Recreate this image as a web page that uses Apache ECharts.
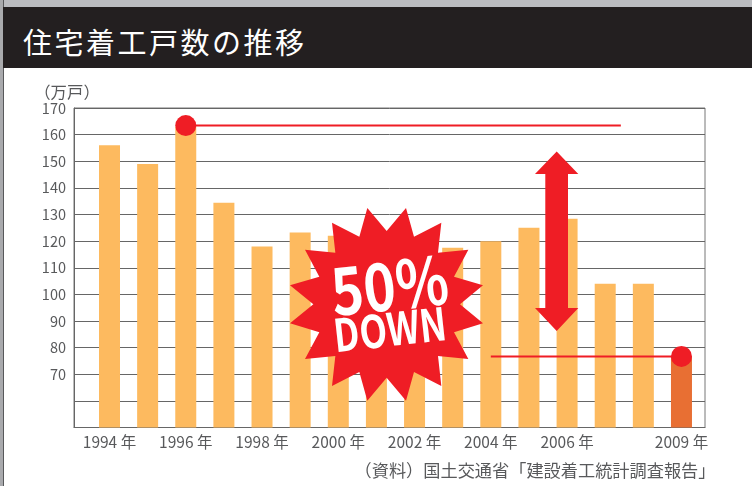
<!DOCTYPE html>
<html>
<head>
<meta charset="utf-8">
<script src="https://cdn.jsdelivr.net/npm/echarts@6/dist/echarts.min.js"></script>
<style>
  html, body { margin: 0; padding: 0; background: #fff; overflow: hidden; }
  #page { position: relative; width: 752px; height: 486px; }
  #topbar { position: absolute; left: 0; top: 0; width: 752px; height: 7px; background: #bbbcc0; }
  #leftbar { position: absolute; left: 0; top: 0; width: 3px; height: 486px; background: #a9aaad; border-right: 1px solid #58595b; box-sizing: content-box; }
  #header {
    position: absolute; left: 3px; top: 7px; width: 749px; height: 61px; margin: 0;
    background: #231f20; color: #fff; font: 400 29px/68px "Noto Sans CJK JP", sans-serif;
    letter-spacing: 2.5px; padding-left: 20px; box-sizing: border-box;
  }
  #chart { position: absolute; left: 0; top: 0; width: 752px; height: 486px; }
</style>
</head>
<body>
<div id="page">
  <div id="chart"></div>
  <div id="topbar"></div>
  <div id="leftbar"></div>
  <h1 id="header">住宅着工戸数の推移</h1>
</div>
<script>
const years = [1994, 1995, 1996, 1997, 1998, 1999, 2000, 2001, 2002, 2003, 2004, 2005, 2006, 2007, 2008, 2009]
const starts = [156, 149, 163, 134.4, 118, 123.2, 122, 117, 115, 117.5, 120, 125, 128.4, 104, 104, 76.7]
const yearLabels = [1994, 1996, 1998, 2000, 2002, 2004, 2006, 2009]
const valueLabels = [70, 80, 90, 100, 110, 120, 130, 140, 150, 160, 170]
const peakPoint = [1996, 163.4]
const lowPoint = [2009, 76.7]
const peakLine = [[1996, 163.4], [2007.41, 163.4]]
const lowLine = [[2004, 76.7], [2009, 76.7]]

const textColor = '#58595b'
const red = '#ef1d25'
const jp = '"Noto Sans CJK JP", sans-serif'

// star outline, zoomed crop coords of the burst (3x, origin 280,200)
const starCrop = [
  [262, 24], [320, 93], [378, 24], [402, 110], [484, 68], [474, 158], [565, 149], [522, 230],
  [609, 256], [540, 313], [609, 370], [522, 397], [565, 477], [474, 468], [484, 558], [402, 516],
  [378, 602], [320, 533], [262, 602], [238, 516], [156, 558], [166, 468], [75, 477], [118, 397],
  [30, 370], [100, 313], [30, 256], [118, 230], [75, 149], [166, 158], [156, 68], [238, 110]
]
const starPoints = starCrop.map(p => [p[0] / 3 + 280, p[1] / 3 + 200])

const arrowPoints = [
  [556.7, 151.5], [578.3, 174], [568, 174], [568, 308], [578.3, 308],
  [556.7, 331], [535, 308], [545.3, 308], [545.3, 174], [535, 174]
]

const chart = echarts.init(document.getElementById('chart'))
chart.setOption({
  animation: false,
  backgroundColor: '#fff',
  textStyle: { fontFamily: jp },
  grid: {
    left: 74,
    top: 108,
    width: 631,
    height: 319.5,
    show: true,
    borderColor: '#777',
    borderWidth: 1
  },
  xAxis: {
    type: 'value',
    min: 1993.069,
    max: 2009.617,
    splitLine: { show: false },
    axisTick: { show: false },
    axisLine: { lineStyle: { color: '#666' } },
    axisLabel: {
      customValues: yearLabels,
      formatter: v => v + ' 年',
      color: textColor,
      fontSize: 15.5,
      margin: 7
    }
  },
  yAxis: {
    type: 'value',
    min: 50,
    max: 170,
    interval: 10,
    name: '（万戸）',
    nameLocation: 'end',
    nameGap: 8,
    nameTextStyle: { color: textColor, fontSize: 16.4, align: 'center', padding: [0, 14, 0, 0] },
    splitLine: { lineStyle: { color: '#666', width: 1 } },
    axisTick: { show: false },
    axisLine: { lineStyle: { color: '#666' } },
    axisLabel: {
      customValues: valueLabels,
      color: textColor,
      fontSize: 14.5,
      margin: 8
    }
  },
  series: [
    {
      type: 'bar',
      barWidth: 21,
      data: years.map((y, i) => [y, starts[i]]),
      itemStyle: {
        color: p => p.data[0] === lowPoint[0] ? '#e86f33' : '#fdba5f'
      }
    },
    {
      type: 'line',
      data: peakLine,
      symbol: 'none',
      z: 5,
      lineStyle: { color: red, width: 2 }
    },
    {
      type: 'line',
      data: lowLine,
      symbol: 'none',
      z: 5,
      lineStyle: { color: red, width: 2 }
    },
    {
      type: 'scatter',
      data: [peakPoint, lowPoint],
      symbolSize: 21,
      z: 6,
      itemStyle: { color: red, opacity: 1 }
    }
  ],
  graphic: [
    { type: 'polygon', z: 20, shape: { points: arrowPoints }, style: { fill: red } },
    { type: 'polygon', z: 20, shape: { points: starPoints }, style: { fill: red } },
    {
      type: 'text', z: 21, x: 389.5, y: 285, rotation: 0.11, scaleX: 0.83,
      style: { text: '50%', fill: '#fff', font: 'bold 66px ' + jp, align: 'center', verticalAlign: 'middle' }
    },
    {
      type: 'text', z: 21, x: 390, y: 329, rotation: 0.11, scaleX: 0.8,
      style: { text: 'DOWN', fill: '#fff', font: 'bold 45px ' + jp, align: 'center', verticalAlign: 'middle' }
    },
    {
      type: 'text', z: 21, x: 715.5, y: 470,
      style: { text: '（資料）国土交通省「建設着工統計調査報告」', fill: textColor, font: '17.2px ' + jp, align: 'right', verticalAlign: 'middle' }
    }
  ]
})
</script>
</body>
</html>
